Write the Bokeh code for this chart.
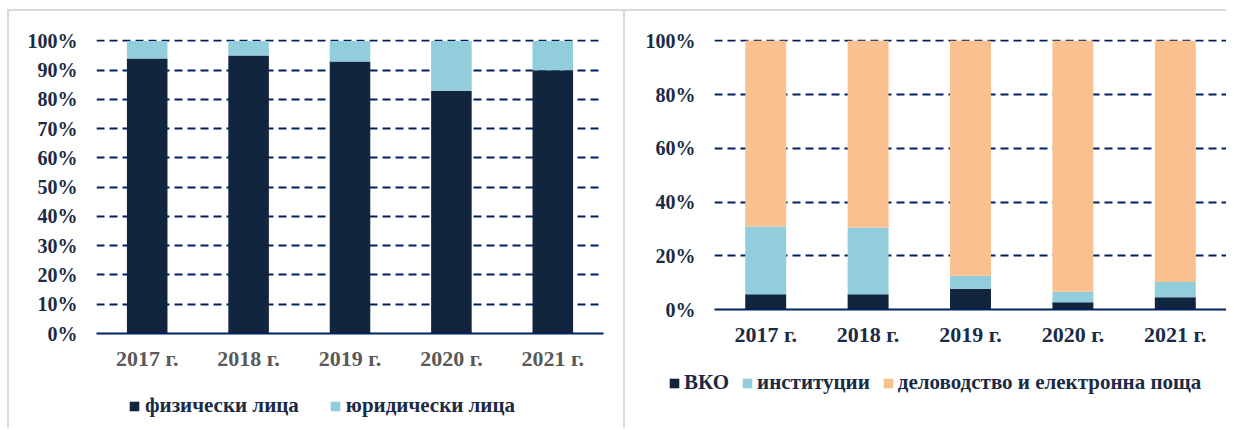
from bokeh.plotting import figure
from bokeh.models import FactorRange, Range1d, Legend, LegendItem, PrintfTickFormatter, FixedTicker
from bokeh.layouts import row, column
from bokeh.embed import file_html
from bokeh.resources import INLINE

years = ["2017 г.", "2018 г.", "2019 г.", "2020 г.", "2021 г."]
# left chart (%)
fiz = [94, 95, 93, 83, 90]
yur = [6, 5, 7, 17, 10]
left_labels = ["физически лица", "юридически лица"]
left_ticks = [0, 10, 20, 30, 40, 50, 60, 70, 80, 90, 100]
# right chart (%)
vko = [5.7, 5.7, 7.7, 2.7, 4.6]
inst = [25.2, 24.8, 4.9, 3.9, 5.6]
delo = [69.1, 69.5, 87.4, 93.4, 89.8]
right_labels = ["ВКО", "институции", "деловодство и електронна поща"]
right_ticks = [0, 20, 40, 60, 80, 100]

NAVY = "#12253f"
LBLUE = "#92cddc"
PEACH = "#fac090"
GRID = "#002060"
TXT = "#1b2a45"
FONT = "Liberation Serif"
GRAYB = "2px solid #d9d9d9"


def make(fw, fh, ml, mr, mt, mb, ticks, keys, data, colors, labels, xlab_color,
         leg_h, leg_x, leg_y, leg_spacing, leg_standoff, margin):
    src = dict(x=years)
    for k, d in zip(keys, data):
        src[k] = d
    p = figure(x_range=FactorRange(*years, range_padding=0), y_range=Range1d(0, 100.5),
               frame_width=fw, frame_height=fh, min_border_left=ml, min_border_right=mr,
               min_border_top=mt, min_border_bottom=mb, output_backend="svg",
               toolbar_location=None, background_fill_color="white",
               border_fill_color="white")
    p.outline_line_color = None
    p.vbar_stack(keys, x="x", width=0.4, color=colors, line_color=None, source=src)
    p.xgrid.grid_line_color = None
    p.ygrid.grid_line_color = GRID
    p.ygrid.grid_line_width = 2
    p.ygrid.grid_line_dash = "8 5"
    p.yaxis.ticker = FixedTicker(ticks=ticks)
    p.yaxis.formatter = PrintfTickFormatter(format="%d%%")
    p.yaxis.axis_line_color = None
    p.yaxis.major_tick_line_color = None
    p.yaxis.minor_tick_line_color = None
    p.yaxis.major_label_standoff = 13
    p.yaxis.major_label_text_font = FONT
    p.yaxis.major_label_text_font_style = "bold"
    p.yaxis.major_label_text_font_size = "20px"
    p.yaxis.major_label_text_color = TXT
    p.xaxis.axis_line_color = GRID
    p.xaxis.axis_line_width = 2
    p.xaxis.major_tick_line_color = None
    p.xaxis.minor_tick_line_color = None
    p.xaxis.major_label_standoff = 6
    p.xaxis.major_label_text_font = FONT
    p.xaxis.major_label_text_font_style = "bold"
    p.xaxis.major_label_text_font_size = "22px"
    p.xaxis.major_label_text_color = xlab_color
    p.styles = {"border-left": GRAYB, "border-top": GRAYB}
    p.margin = margin

    # legend strip below the chart (its own frame, so the legend is not clipped)
    tot_w = ml + fw + mr
    lg = figure(x_range=FactorRange(*years), y_range=Range1d(-2, -1),
                frame_width=tot_w, frame_height=leg_h, min_border=0,
                x_axis_type=None, y_axis_type=None, output_backend="svg",
                toolbar_location=None, background_fill_color="white",
                border_fill_color="white")
    lg.outline_line_color = None
    lg.grid.visible = False
    rs = lg.vbar_stack(keys, x="x", width=0.4, color=colors, line_color=None, source=src)
    for r in rs:
        r.visible = False
    items = [LegendItem(label=l, renderers=[r]) for l, r in zip(labels, rs)]
    leg = Legend(items=items, orientation="horizontal", location=(leg_x, leg_y),
                 border_line_color=None, background_fill_alpha=0, padding=0, margin=0,
                 glyph_width=12, glyph_height=12, label_standoff=leg_standoff,
                 spacing=leg_spacing, label_text_font=FONT, label_text_font_style="bold",
                 label_text_font_size="21px", label_text_color=TXT, label_height=20,
                 inactive_fill_alpha=0)
    lg.add_layout(leg, "center")
    lg.styles = {"border-left": GRAYB}
    lg.margin = (0, 0, 0, margin[3])
    return column(p, lg, spacing=0)


c1 = make(505, 292, 87, 22, 28, 50, left_ticks, ["fiz", "yur"], [fiz, yur],
          [NAVY, LBLUE], left_labels, "#595959", 47, 119, 10, 30, 5, (9, 0, 0, 7))
c2 = make(510, 268, 89, 2, 28, 50, right_ticks, ["vko", "inst", "delo"], [vko, inst, delo],
          [NAVY, LBLUE, PEACH], right_labels, TXT, 71, 43, 33, 12, 4, (9, 0, 0, 0))

layout = row(c1, c2, spacing=0)
open("out.html", "w").write(file_html(layout, INLINE))
